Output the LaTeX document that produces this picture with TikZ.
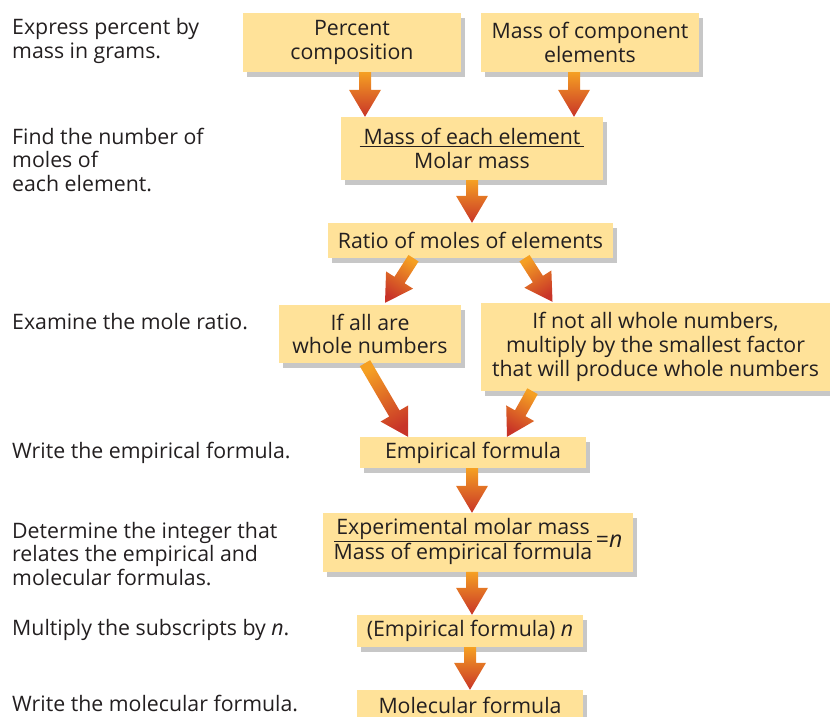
\documentclass[tikz,border=0pt]{standalone}
\usepackage{fontspec}
\setmainfont{Open Sans}
\usetikzlibrary{calc,shadows}
\definecolor{boxfill}{RGB}{255,226,153}
\definecolor{arrtop}{RGB}{245,160,35}
\definecolor{arrbot}{RGB}{200,52,40}
\definecolor{txt}{RGB}{35,31,32}
\newcommand\flowarrow[3]{%
  \coordinate (fa-s) at #1;
  \coordinate (fa-e) at #2;
  \coordinate (fa-b) at ($(fa-e)!27pt!(fa-s)$);
  \shade[top color=arrtop,bottom color=arrbot,shading angle=#3]
    ($(fa-s)!6pt!90:(fa-e)$) -- ($(fa-b)!6pt!90:(fa-e)$) -- ($(fa-b)!16pt!90:(fa-e)$)
    -- (fa-e) -- ($(fa-b)!16pt!-90:(fa-e)$) -- ($(fa-b)!6pt!-90:(fa-e)$)
    -- ($(fa-s)!6pt!-90:(fa-e)$) -- cycle;
}
\tikzset{
  fbox/.style={fill=boxfill, inner sep=0pt, align=center, text=txt,
    font=\fontsize{21.3}{23.7}\selectfont,
    drop shadow={shadow xshift=4pt, shadow yshift=-5pt, fill=black, opacity=0.22}},
  lbl/.style={anchor=west, align=left, inner sep=0pt, text=txt,
    font=\fontsize{21.3}{23.7}\selectfont}
}
\begin{document}
\begin{tikzpicture}[x=1pt,y=-1pt]
\useasboundingbox (0,0) rectangle (830,717);
% boxes
\node[fbox, minimum width=218pt, minimum height=59pt] (pc) at (352,42.5) {Percent\\composition};
\node[fbox, minimum width=218pt, minimum height=59pt] (mce) at (590,42.5) {Mass of component\\elements};
\node[fbox, minimum width=262pt, minimum height=63pt] (mee) at (472,148.5) {\underline{\kern4pt Mass of each element\kern4pt}\\Molar mass};
\node[fbox, minimum width=285pt, minimum height=35pt] (rme) at (470.5,240.5) {Ratio of moles of elements};
\node[fbox, minimum width=182pt, minimum height=58pt] (wn) at (370,334) {If all are\\whole numbers};
\node[fbox, minimum width=349pt, minimum height=88pt] (nwn) at (655.5,347) {If not all whole numbers,\\multiply by the smallest factor\\that will produce whole numbers};
\node[fbox, minimum width=226pt, minimum height=31pt] (ef) at (473,452.5) {Empirical formula};
\node[fbox, minimum width=310pt, minimum height=59pt] (exp) at (478,542.5) {\begin{tabular}{@{}c@{}}\underline{\kern2pt Experimental molar mass\kern2pt}\\[1pt]Mass of empirical formula\end{tabular}\,{\fontsize{23}{24}\selectfont =\textit{n}}};
\node[fbox, minimum width=226pt, minimum height=32pt] (efn) at (470,631) {(Empirical formula) \textit{n}};
\node[fbox, minimum width=226pt, minimum height=30pt] (mf) at (470,705) {Molecular formula};
% left labels
\node[lbl] (l1) at (12,41) {Express percent by\\mass in grams.};
\node[lbl] (l2) at (12,160) {Find the number of\\moles of\\each element.};
\node[lbl] (l3) at (12,322) {Examine the mole ratio.};
\node[lbl] (l4) at (12,453) {Write the empirical formula.};
\node[lbl] (l5) at (12,554) {Determine the integer that\\relates the empirical and\\molecular formulas.};
\node[lbl] (l6) at (12,630) {Multiply the subscripts by \textit{n}.};
\node[lbl] (l7) at (12,703) {Write the molecular formula.};
% arrows
\coordinate (a1s) at ($(pc.south)+(13,0)$);
\flowarrow{(a1s)}{(a1s |- mee.north)}{0}
\coordinate (a2s) at ($(mce.south)+(-16,0)$);
\flowarrow{(a2s)}{(a2s |- mee.north)}{0}
\flowarrow{(mee.south)}{(mee.south |- rme.north)}{0}
\coordinate (a4s) at ($(rme.south)+(-57,0)$);
\coordinate (a4e) at ($(wn.north)+(15,-2)$);
\flowarrow{(a4s)}{(a4e)}{-32}
\coordinate (a5s) at ($(rme.south)+(54,0)$);
\coordinate (a5e) at ($(nwn.north)+(-103,-1)$);
\flowarrow{(a5s)}{(a5e)}{32}
\coordinate (a6s) at ($(wn.south)+(-5,0)$);
\coordinate (a6e) at ($(ef.north)+(-65,0)$);
\flowarrow{(a6s)}{(a6e)}{30}
\coordinate (a7s) at ($(nwn.south)+(-123,0)$);
\coordinate (a7e) at ($(ef.north)+(34,0)$);
\flowarrow{(a7s)}{(a7e)}{-29}
\coordinate (a8s) at ($(ef.south)+(-1,0)$);
\flowarrow{(a8s)}{(a8s |- exp.north)}{0}
\coordinate (a9s) at ($(efn.north)+(2,-43)$);
\flowarrow{(a9s)}{(a9s |- efn.north)}{0}
\flowarrow{(efn.south)}{(efn.south |- mf.north)}{0}
\end{tikzpicture}
\end{document}
